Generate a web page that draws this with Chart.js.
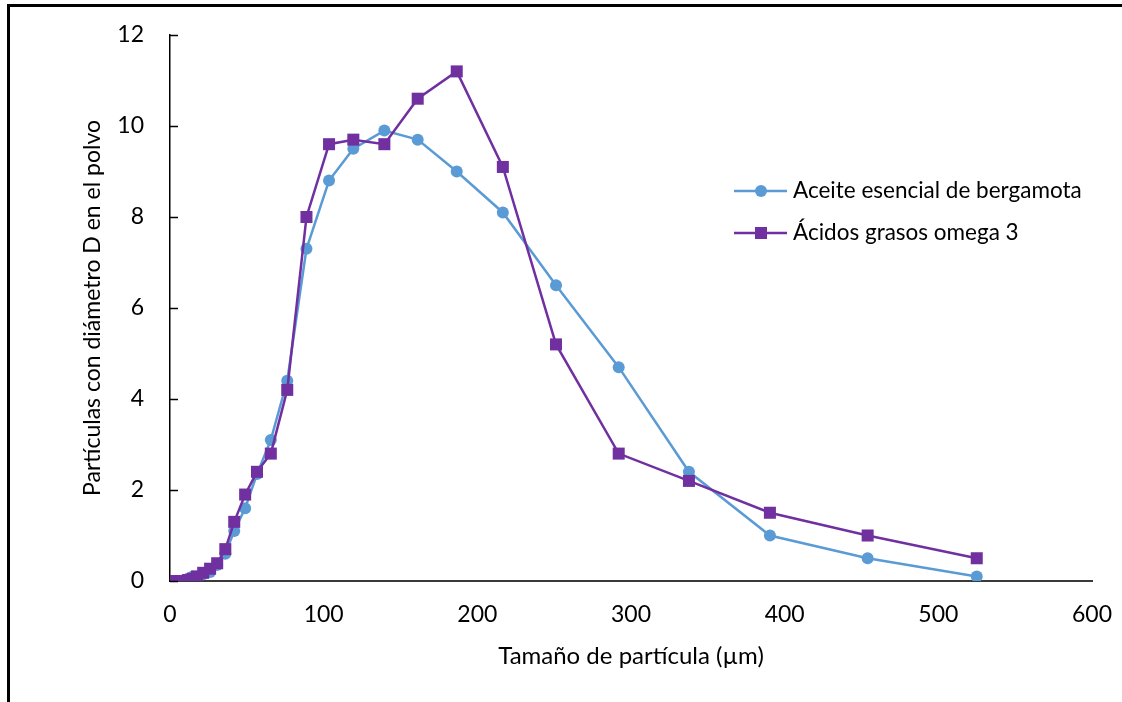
<!DOCTYPE html>
<html>
<head>
<meta charset="utf-8">
<script src="https://cdn.jsdelivr.net/npm/chart.js@4.4.1/dist/chart.umd.min.js"></script>
<style>
  html, body { margin: 0; padding: 0; background: #fff; }
  #wrap { position: relative; width: 1122px; height: 702px; overflow: hidden; }
  #frame { position: absolute; left: 7px; top: 4px; right: -10px; bottom: -10px;
           border-left: 3.5px solid #000; border-top: 3.5px solid #000; pointer-events: none; }
  canvas { position: absolute; left: 0; top: 0; }
</style>
</head>
<body>
<div id="wrap">
  <canvas id="chart" width="1122" height="702"></canvas>
  <div id="frame"></div>
</div>
<script>
// tamaños de partícula (µm)
const sizes = [3.0, 3.6, 4.3, 5.1, 6.0, 7.1, 8.4, 9.9, 11.6, 14.8, 17.6, 21.6, 26.1, 30.7, 36.0, 41.8,
  48.9, 56.6, 65.6, 76.3, 88.8, 103.5, 119.3, 139.5, 161.2, 186.6, 216.6, 251.2, 292.0, 337.7, 390.4, 454.0, 525.0];

const bergamota = [0, 0, 0, 0, 0, 0, 0, 0, 0.05, 0.1, 0.1, 0.15, 0.2, 0.35, 0.6, 1.1,
  1.6, 2.35, 3.1, 4.4, 7.3, 8.8, 9.5, 9.9, 9.7, 9.0, 8.1, 6.5, 4.7, 2.4, 1.0, 0.5, 0.1];

const omega3 = [0, 0, 0, 0, 0, 0, 0, 0, 0.02, 0.05, 0.1, 0.18, 0.27, 0.39, 0.7, 1.3,
  1.9, 2.4, 2.8, 4.2, 8.0, 9.6, 9.7, 9.6, 10.6, 11.2, 9.1, 5.2, 2.8, 2.2, 1.5, 1.0, 0.5];

const seriesNames = ['Aceite esencial de bergamota', 'Ácidos grasos omega 3'];
const xTicks = [0, 100, 200, 300, 400, 500, 600];
const yTicks = [0, 2, 4, 6, 8, 10, 12];

const FONT = 'Lato, "Open Sans", sans-serif';
const FSIZE = 23;
const BLUE = '#5B9BD5';
const PURPLE = '#7030A0';

function toPoints(ys) {
  return sizes.map((x, i) => ({ x: x, y: ys[i] }));
}

// las etiquetas no deben empujar el área del gráfico
function noLabelPadding(s) {
  s.paddingLeft = 0;
  s.paddingRight = 0;
  s.paddingTop = 0;
  s.paddingBottom = 0;
}

// marcas de la escala Y hacia dentro del área
const innerTicks = {
  id: 'innerTicks',
  afterDatasetsDraw(chart) {
    const ctx = chart.ctx;
    const yScale = chart.scales.y;
    const left = chart.chartArea.left;
    ctx.save();
    ctx.strokeStyle = '#000';
    ctx.lineWidth = 1.5;
    yTicks.forEach(v => {
      const py = Math.round(yScale.getPixelForValue(v)) + 0.5;
      ctx.beginPath();
      ctx.moveTo(left, py);
      ctx.lineTo(left + 8, py);
      ctx.stroke();
    });
    ctx.restore();
  }
};

// leyenda dentro del área del gráfico
const insideLegend = {
  id: 'insideLegend',
  afterDraw(chart) {
    const ctx = chart.ctx;
    const items = [
      { text: seriesNames[0], color: BLUE, style: 'circle', radius: 6, y: 191 },
      { text: seriesNames[1], color: PURPLE, style: 'rect', radius: 8.5, y: 233 }
    ];
    ctx.save();
    items.forEach(it => {
      ctx.strokeStyle = it.color;
      ctx.lineWidth = 2.5;
      ctx.beginPath();
      ctx.moveTo(734, it.y);
      ctx.lineTo(787, it.y);
      ctx.stroke();
      ctx.fillStyle = it.color;
      Chart.helpers.drawPoint(ctx, { pointStyle: it.style, radius: it.radius, rotation: 0, borderWidth: 0 }, 761, it.y);
      ctx.fillStyle = '#000';
      ctx.font = '22.5px ' + FONT;
      ctx.textBaseline = 'middle';
      ctx.textAlign = 'left';
      ctx.fillText(it.text, 793, it.y);
    });
    ctx.restore();
  }
};

new Chart(document.getElementById('chart'), {
  type: 'line',
  data: {
    datasets: [
      {
        label: seriesNames[0],
        data: toPoints(bergamota),
        borderColor: BLUE,
        backgroundColor: BLUE,
        borderWidth: 2.5,
        pointStyle: 'circle',
        pointRadius: 6,
        pointBorderWidth: 0,
        order: 2
      },
      {
        label: seriesNames[1],
        data: toPoints(omega3),
        borderColor: PURPLE,
        backgroundColor: PURPLE,
        borderWidth: 2.5,
        pointStyle: 'rect',
        pointRadius: 8.5,
        pointBorderWidth: 0,
        order: 1
      }
    ]
  },
  options: {
    responsive: false,
    animation: false,
    layout: { padding: { left: 0, right: 30, top: 35, bottom: 0 } },
    plugins: { legend: { display: false }, tooltip: { enabled: false } },
    scales: {
      x: {
        type: 'linear',
        min: 0, max: 600,
        afterFit: s => { s.height = 121; noLabelPadding(s); },
        afterBuildTicks: s => { s.ticks = xTicks.map(v => ({ value: v })); },
        grid: { display: false, drawTicks: false },
        border: { display: true, color: '#3a3a3a', width: 2 },
        ticks: { color: '#000', padding: 20, maxRotation: 0, font: { family: FONT, size: FSIZE } },
        title: {
          display: true, text: 'Tamaño de partícula (µm)', color: '#000',
          font: { family: FONT, size: 24 }, padding: { top: 0, bottom: 31 }
        }
      },
      y: {
        min: 0, max: 12,
        afterFit: s => { s.width = 170; noLabelPadding(s); },
        afterBuildTicks: s => { s.ticks = yTicks.map(v => ({ value: v })); },
        grid: { display: false, drawTicks: false },
        border: { display: true, color: '#000', width: 1.5 },
        ticks: { color: '#000', padding: 26, font: { family: FONT, size: FSIZE } },
        title: {
          display: true, text: 'Partículas con diámetro D en el polvo', color: '#000',
          font: { family: FONT, size: FSIZE }, padding: { top: 79, bottom: 0 }
        }
      }
    }
  },
  plugins: [innerTicks, insideLegend]
});
</script>
</body>
</html>
